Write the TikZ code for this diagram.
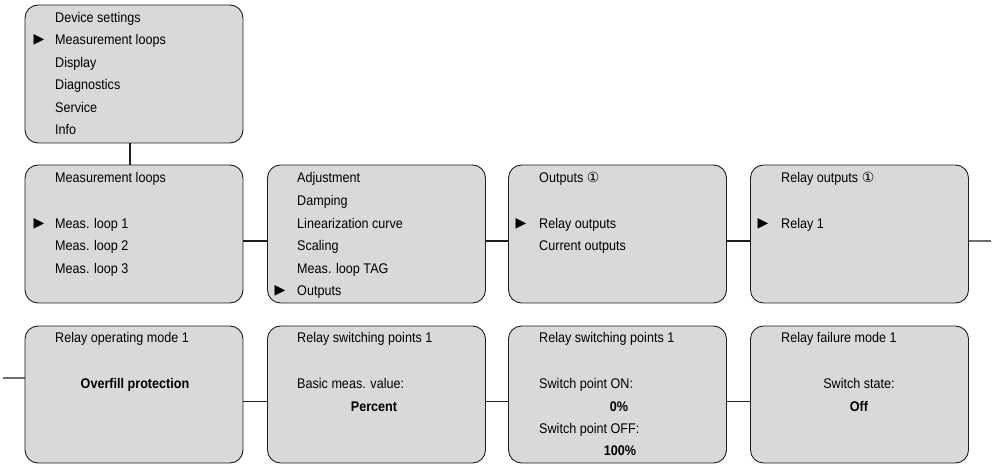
\documentclass[tikz,border=0pt]{standalone}
\usepackage{fontspec}
\setmainfont[FakeStretch=0.9]{Liberation Sans}
\newfontfamily\symfont{DejaVu Sans}
\definecolor{boxgray}{RGB}{217,217,217}
\definecolor{edgegray}{RGB}{30,30,30}
\newcommand{\circone}{{\symfont\fontsize{14bp}{16bp}\selectfont ①}}
\tikzset{
  menubox/.style={draw=edgegray, fill=boxgray, rounded corners=13bp, line width=0.9bp,
    minimum width=218bp, minimum height=138bp, inner sep=0pt, outer sep=0pt},
  txt/.style={anchor=base west, inner sep=0pt, font=\fontsize{14bp}{16bp}\selectfont},
  ctxt/.style={anchor=base, inner sep=0pt, font=\fontsize{14bp}{16bp}\selectfont},
  btxt/.style={anchor=base, inner sep=0pt, font=\fontsize{14bp}{16bp}\selectfont\bfseries},
  pointer/.style={anchor=center, inner sep=0pt, font=\symfont\fontsize{14bp}{16bp}\selectfont},
  conn/.style={draw=edgegray, line width=1.1bp}
}
\begin{document}
\begin{tikzpicture}[x=1bp,y=-1bp]
\useasboundingbox (0,0) rectangle (997,465);
% boxes
\node[menubox] (top) at (134,74) {};
\node[menubox] (m1) at (134,234) {};
\node[menubox] (m2) at (376.5,234) {};
\node[menubox] (m3) at (617.5,234) {};
\node[menubox] (m4) at (859.5,234) {};
\node[menubox, minimum height=137bp] (r1) at (134,394.5) {};
\node[menubox, minimum height=137bp] (r2) at (376.5,394.5) {};
\node[menubox, minimum height=137bp] (r3) at (617.5,394.5) {};
\node[menubox, minimum height=137bp] (r4) at (859.5,394.5) {};
% connectors
\draw[conn] ([xshift=-4bp]top.south) -- ([xshift=-4bp]m1.north);
\draw[conn] ([yshift=-7bp]m1.east) -- ([yshift=-7bp]m2.west);
\draw[conn] ([yshift=-7bp]m2.east) -- ([yshift=-7bp]m3.west);
\draw[conn] ([yshift=-7bp]m3.east) -- ([yshift=-7bp]m4.west);
\coordinate (rightend) at (991,241);
\coordinate (leftend) at (3,378);
\draw[conn] ([yshift=-7bp]m4.east) -- (rightend);
\draw[conn] (leftend) -- ([yshift=16.5bp]r1.west);
\draw[conn] ([yshift=-7bp]r1.east) -- ([yshift=-7bp]r2.west);
\draw[conn] ([yshift=-7bp]r2.east) -- ([yshift=-7bp]r3.west);
\draw[conn] ([yshift=-7bp]r3.east) -- ([yshift=-7bp]r4.west);
% top box texts
\node[txt] (t1) at (55,22.5) {Device settings};
\node[pointer] (p1) at (39,40) {▶};
\node[txt] (t2) at (55,44.9) {Measurement loops};
\node[txt] (t3) at (55,67.3) {Display};
\node[txt] (t4) at (55,89.7) {Diagnostics};
\node[txt] (t5) at (55,112.1) {Service};
\node[txt] (t6) at (55,134.5) {Info};
% row 1 box 1
\node[txt] (a1) at (55,183) {Measurement loops};
\node[pointer] (p2) at (39,223.5) {▶};
\node[txt] (a2) at (55,228.2) {Meas. loop 1};
\node[txt] (a3) at (55,250.8) {Meas. loop 2};
\node[txt] (a4) at (55,273.4) {Meas. loop 3};
% row 1 box 2
\node[txt] (b1) at (297,183) {Adjustment};
\node[txt] (b2) at (297,205.6) {Damping};
\node[txt] (b3) at (297,228.2) {Linearization curve};
\node[txt] (b4) at (297,250.8) {Scaling};
\node[txt] (b5) at (297,273.4) {Meas. loop TAG};
\node[pointer] (p3) at (280,291) {▶};
\node[txt] (b6) at (297,296) {Outputs};
% row 1 box 3
\node[txt] (c1) at (539,183) {Outputs \circone};
\node[pointer] (p4) at (521,223.5) {▶};
\node[txt] (c2) at (539,228.2) {Relay outputs};
\node[txt] (c3) at (539,250.8) {Current outputs};
% row 1 box 4
\node[txt] (d1) at (781,183) {Relay outputs \circone};
\node[pointer] (p5) at (763,223.5) {▶};
\node[txt] (d2) at (781,228.2) {Relay 1};
% row 2 box 1
\node[txt] (e1) at (55,343) {Relay operating mode 1};
\node[btxt] (e2) at (135,389) {Overfill protection};
% row 2 box 2
\node[txt] (f1) at (297,343) {Relay switching points 1};
\node[txt] (f2) at (297,389) {Basic meas. value:};
\node[btxt] (f3) at (374,411.6) {Percent};
% row 2 box 3
\node[txt] (g1) at (539,343) {Relay switching points 1};
\node[txt] (g2) at (539,389) {Switch point ON:};
\node[btxt] (g3) at (619,411.6) {0\%};
\node[txt] (g4) at (539,433.5) {Switch point OFF:};
\node[btxt] (g5) at (620,455.5) {100\%};
% row 2 box 4
\node[txt] (h0) at (781,343) {Relay failure mode 1};
\node[ctxt] (h1) at (859,389) {Switch state:};
\node[btxt] (h2) at (859,411.6) {Off};
\end{tikzpicture}
\end{document}
